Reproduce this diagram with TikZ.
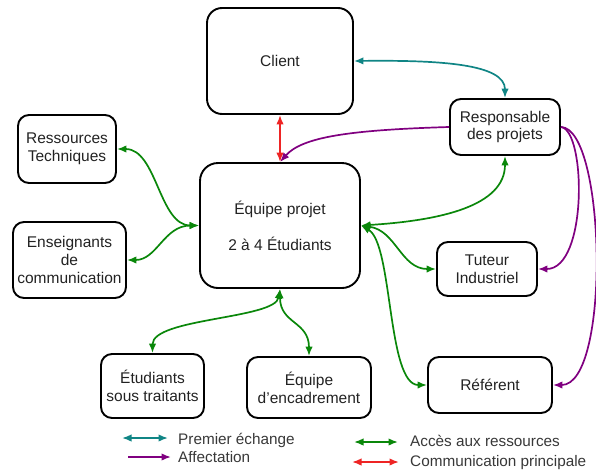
\documentclass[tikz,border=0pt]{standalone}
\usepackage{fontspec}
\setmainfont{Liberation Sans}
\usetikzlibrary{arrows.meta}
\definecolor{cteal}{HTML}{108585}
\definecolor{cpurple}{HTML}{800080}
\definecolor{cgreen}{HTML}{0A870A}
\definecolor{cred}{HTML}{EE2424}
\definecolor{ctext}{HTML}{222222}
\tikzset{
  box/.style={draw=black, line width=1.9pt, rounded corners=11pt, align=center,
    inner sep=0pt, text=ctext, font=\fontsize{15.5}{17.8}\selectfont},
  conn/.style={line width=1.7pt},
  tip/.tip={Latex[length=9.5pt,width=7.5pt]},
  both/.style={conn, tip-tip},
  single/.style={conn, -tip},
  legtext/.style={anchor=base west, inner sep=0pt, text=ctext!90, font=\fontsize{15.3}{17.8}\selectfont},
}
\begin{document}
\begin{tikzpicture}[x=1pt,y=-1pt]
\useasboundingbox (0,0) rectangle (596,469);
% nodes
\node[box, rounded corners=15pt, minimum width=146pt, minimum height=106pt] (client) at (280,61) {Client};
\node[box, minimum width=110pt, minimum height=56pt] (resp) at (505,127) {Responsable\\des projets};
\node[box, minimum width=98pt, minimum height=68pt] (ress) at (67,149) {Ressources\\Techniques};
\node[box, minimum width=113pt, minimum height=76pt] (ens) at (69.5,260) {Enseignants\\de\\communication};
\node[box, rounded corners=18pt, minimum width=160pt, minimum height=125pt] (equipe) at (280,225.5) {Équipe projet\\[18pt]2 à 4 Étudiants};
\node[box, minimum width=100pt, minimum height=54pt] (tuteur) at (487,269) {Tuteur\\Industriel};
\node[box, minimum width=124pt, minimum height=56pt] (ref) at (490,385) {Référent};
\node[box, minimum width=103pt, minimum height=64pt] (etud) at (152.5,386) {Étudiants\\sous traitants};
\node[box, minimum width=124pt, minimum height=61pt] (encad) at (309,387.5) {Équipe\\d’encadrement};
% connectors
\draw[both, cred] (client.south) -- (equipe.north);
\draw[both, cteal] (client.east) .. controls +(87,-1) and +(0,-34) .. (resp.north);
\draw[single, cpurple] (resp.west) .. controls +(-100,3) and +(22,-25) .. (equipe.north);
\draw[single, cpurple] (resp.east) .. controls +(25,3) and +(50,0) .. (tuteur.east);
\draw[single, cpurple] (resp.east) .. controls +(45,1) and +(58,0) .. (ref.east);
\draw[both, cgreen] (ress.east) .. controls +(40,0) and +(-40,0) .. (equipe.west);
\draw[both, cgreen] (ens.east) .. controls +(30,0) and +(-35,0) .. (equipe.west);
\draw[both, cgreen] (equipe.east) .. controls +(80,-5) and +(0,50) .. (resp.south);
\draw[both, cgreen] (equipe.east) .. controls +(35,5) and +(-35,0) .. (tuteur.west);
\draw[both, cgreen] (equipe.east) .. controls +(32,18) and +(-40,0) .. (ref.west);
\draw[both, cgreen] (equipe.south) .. controls +(-5,30) and +(0,-35) .. (etud.north);
\draw[both, cgreen] (equipe.south) .. controls +(0,35) and +(0,-35) .. (encad.north);
% legend
\coordinate (l1a) at (122,438); \coordinate (l1b) at (168,438);
\coordinate (l2a) at (128,457); \coordinate (l2b) at (171,457);
\coordinate (l3a) at (354,442); \coordinate (l3b) at (398,442);
\coordinate (l4a) at (352,462); \coordinate (l4b) at (399,462);
\draw[both, cteal] (l1a) -- (l1b);
\draw[single, cpurple] (l2a) -- (l2b);
\draw[both, cgreen] (l3a) -- (l3b);
\draw[both, cred] (l4a) -- (l4b);
\node[legtext] (t1) at (178,444) {Premier échange};
\node[legtext] (t2) at (178,462) {Affectation};
\node[legtext] (t3) at (410,446.7) {Accès aux ressources};
\node[legtext] (t4) at (410,466.5) {Communication principale};
\end{tikzpicture}
\end{document}
